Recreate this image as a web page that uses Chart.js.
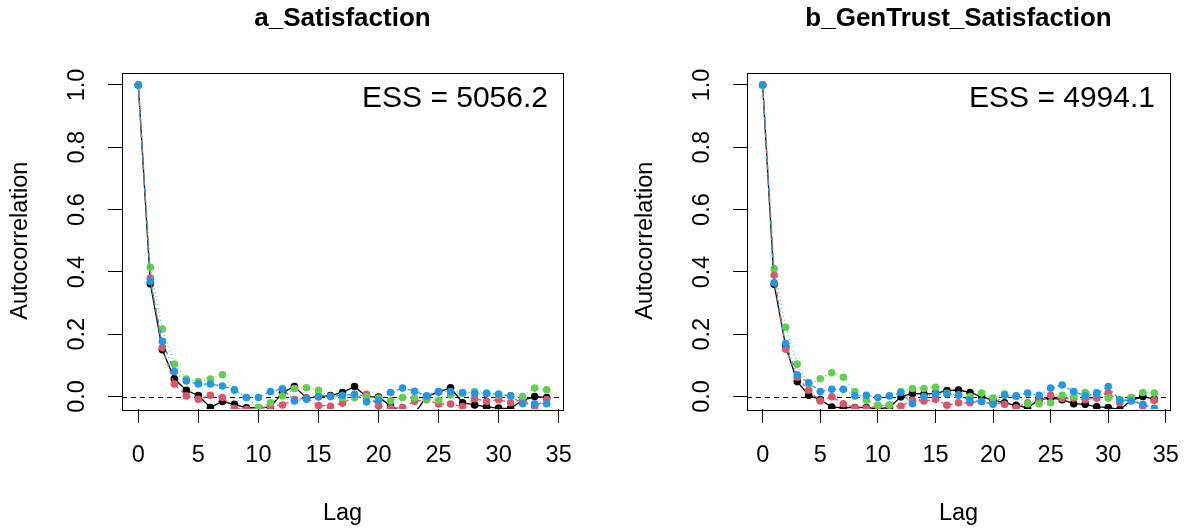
<!DOCTYPE html>
<html>
<head>
<meta charset="utf-8">
<script src="https://cdn.jsdelivr.net/npm/chart.js@4.4.1/dist/chart.umd.min.js"></script>
<style>
html,body{margin:0;padding:0;background:#fff;overflow:hidden;}
body{width:1197px;height:529px;position:relative;}
canvas{position:absolute;top:0;}
#chartA{left:0;}
#chartB{left:625px;}
</style>
</head>
<body>
<canvas id="chartA" width="598" height="529"></canvas>
<canvas id="chartB" width="572" height="529"></canvas>
<script>
const lags = [0,1,2,3,4,5,6,7,8,9,10,11,12,13,14,15,16,17,18,19,20,21,22,23,24,25,26,27,28,29,30,31,32,33,34];
const xTickValues = [0,5,10,15,20,25,30,35];
const yTickValues = [0,0.2,0.4,0.6,0.8,1];
const chainColors = ["#000000","#DF536B","#61D04F","#2297E6"];
const chainDashes = [[],[4,4],[1,3],[1,3,4,3]];

const titleA = "a_Satisfaction";
const essA = "ESS = 5056.2";
const chain1A = [1,0.362,0.15,0.057,0.02,0.003,-0.035,-0.016,-0.025,-0.036,-0.036,-0.034,0.013,0.032,-0.005,0,0.003,0.013,0.032,0,-0.002,-0.03,-0.05,-0.055,0,0.015,0.028,-0.02,-0.027,-0.033,-0.037,-0.038,-0.012,0,-0.003];
const chain2A = [1,0.38,0.157,0.04,0.002,-0.009,0.004,-0.003,-0.038,-0.042,-0.04,-0.03,-0.027,-0.01,-0.005,-0.029,-0.031,-0.021,0,0.007,-0.03,-0.038,-0.035,-0.015,-0.01,-0.024,-0.024,-0.032,-0.007,-0.015,-0.01,-0.02,-0.01,-0.032,-0.01];
const chain3A = [1,0.415,0.217,0.104,0.056,0.048,0.056,0.07,0.02,-0.003,-0.035,-0.02,0.002,0.026,0.028,0.02,0,-0.004,-0.003,0,-0.005,-0.014,-0.003,-0.005,-0.009,-0.012,0.005,0.01,0.016,0.01,0.005,0.002,0,0.027,0.022];
const chain4A = [1,0.37,0.177,0.08,0.05,0.04,0.04,0.034,0.022,-0.003,-0.003,0.016,0.025,-0.014,-0.009,-0.001,0,0.004,0.007,-0.017,-0.012,0.013,0.027,0.017,0.002,0.016,0.016,0.013,0.01,0.01,0.008,0.002,-0.023,-0.023,-0.023];

const titleB = "b_GenTrust_Satisfaction";
const essB = "ESS = 4994.1";
const chain1B = [1,0.36,0.16,0.048,0.004,-0.01,-0.034,-0.036,-0.035,-0.035,-0.04,-0.035,-0.001,0.01,0.008,0.01,0.019,0.021,0.013,0,-0.012,-0.02,-0.028,-0.036,-0.01,-0.005,-0.01,-0.023,-0.025,-0.033,-0.035,-0.042,-0.012,0,-0.008];
const chain2B = [1,0.39,0.152,0.062,0.02,-0.014,-0.001,-0.023,-0.036,-0.038,-0.03,-0.028,-0.031,-0.012,-0.014,-0.009,-0.028,-0.02,-0.02,-0.015,-0.02,-0.025,-0.036,-0.02,-0.015,0.004,-0.006,-0.005,-0.01,-0.005,0.013,-0.02,-0.003,-0.031,-0.012];
const chain3B = [1,0.41,0.222,0.104,0.04,0.057,0.076,0.062,0.016,-0.012,-0.027,-0.027,0.016,0.026,0.026,0.03,0.01,0.005,0,0.011,-0.005,0.009,0,-0.023,-0.023,-0.02,0.004,0,0.013,0.013,-0.005,-0.01,-0.005,0.013,0.011];
const chain4B = [1,0.365,0.17,0.07,0.044,0.016,0.023,0.023,0.002,0.004,-0.003,0.002,0.013,-0.023,0,0.007,0.008,0.004,-0.012,-0.016,-0.025,0.004,0.002,0.011,0.004,0.027,0.037,0.016,0.002,0.01,0.032,-0.012,-0.014,-0.025,-0.038];

const fontFamily = "'Liberation Sans', Arial, sans-serif";
Chart.defaults.font.family = fontFamily;
Chart.defaults.color = "#000";

const panelDecor = {
    id: "panelDecor",
    beforeDatasetsDraw(chart){
        const {ctx, chartArea, scales} = chart;
        const y0 = Math.round(scales.y.getPixelForValue(0)) + 0.5;
        ctx.save();
        ctx.strokeStyle = "#000";
        ctx.lineWidth = 1;
        ctx.setLineDash([5,4]);
        ctx.beginPath();
        ctx.moveTo(chartArea.left, y0);
        ctx.lineTo(chartArea.right, y0);
        ctx.stroke();
        ctx.restore();
    },
    afterDraw(chart, args, opts){
        const {ctx, chartArea} = chart;
        ctx.save();
        ctx.strokeStyle = "#000";
        ctx.lineWidth = 1;
        ctx.strokeRect(Math.round(chartArea.left) + 0.5, Math.round(chartArea.top) + 0.5,
            Math.round(chartArea.width), Math.round(chartArea.height));
        ctx.fillStyle = "#000";
        ctx.textAlign = "center";
        ctx.textBaseline = "middle";
        ctx.font = `bold 26px ${fontFamily}`;
        ctx.fillText(opts.title, (chartArea.left + chartArea.right) / 2, 19);
        ctx.textAlign = "right";
        ctx.font = `30px ${fontFamily}`;
        ctx.fillText(opts.ess, chartArea.right - 15, chartArea.top + 26);
        ctx.restore();
    }
};

function buildPanel(canvasId, title, ess, series, padRight){
    const ctx = document.getElementById(canvasId).getContext("2d");
    const datasets = series.map((values, i) => ({
        label: "Chain " + (i + 1),
        data: values.map((v, k) => ({x: lags[k], y: v})),
        borderColor: chainColors[i],
        backgroundColor: chainColors[i],
        pointBackgroundColor: chainColors[i],
        borderWidth: 1.3,
        borderDash: chainDashes[i],
        pointRadius: 3.8,
        pointBorderWidth: 0,
        tension: 0,
        order: series.length - i
    }));
    return new Chart(ctx, {
        type: "line",
        data: {datasets},
        plugins: [panelDecor],
        options: {
            responsive: false,
            animation: false,
            events: [],
            layout: {padding: {top: 72.5, right: padRight, bottom: 0, left: 0}},
            plugins: {
                legend: {display: false},
                tooltip: {enabled: false},
                panelDecor: {title, ess}
            },
            scales: {
                x: {
                    type: "linear",
                    min: -1.36,
                    max: 35.36,
                    afterBuildTicks: (s) => { s.ticks = xTickValues.map((v) => ({value: v})); },
                    afterFit: (s) => { s.height = 120; },
                    grid: {drawOnChartArea: false, drawTicks: true, tickLength: 14, color: "#000", lineWidth: 1},
                    border: {display: false},
                    ticks: {font: {size: 23.5}, padding: 18, maxRotation: 0, autoSkip: false, callback: (v) => String(v)},
                    title: {display: true, text: "Lag", font: {size: 23.5}, padding: {top: 0, bottom: 1}}
                },
                y: {
                    min: -0.04,
                    max: 1.04,
                    afterBuildTicks: (s) => { s.ticks = yTickValues.map((v) => ({value: v})); },
                    afterFit: (s) => { s.width = 122; },
                    grid: {drawOnChartArea: false, drawTicks: true, tickLength: 14, color: "#000", lineWidth: 1},
                    border: {display: false},
                    ticks: {font: {size: 23.5}, padding: 14, minRotation: 90, maxRotation: 90, crossAlign: "center", autoSkip: false,
                        callback: (v) => Number(v).toFixed(1)},
                    title: {display: true, text: "Autocorrelation", font: {size: 23.5}, padding: {top: 6, bottom: 0}}
                }
            }
        }
    });
}

buildPanel("chartA", titleA, essA, [chain1A, chain2A, chain3A, chain4A], 35);
buildPanel("chartB", titleB, essB, [chain1B, chain2B, chain3B, chain4B], 9);
</script>
</body>
</html>
